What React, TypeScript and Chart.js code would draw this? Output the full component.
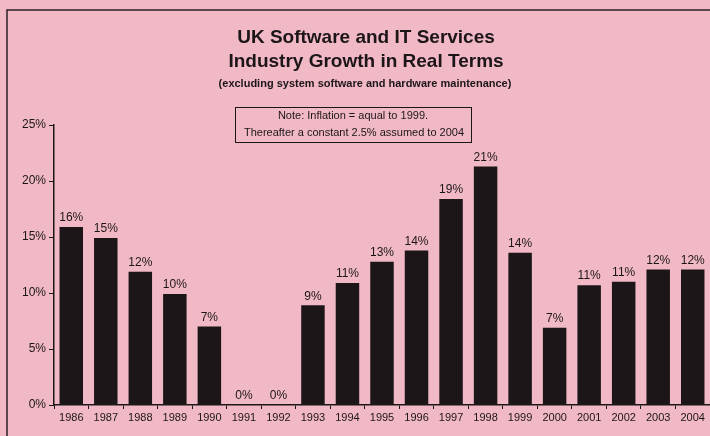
import React, { useEffect, useRef } from "react";
import { Chart, registerables } from "chart.js";

Chart.register(...registerables);

const years = ["1986","1987","1988","1989","1990","1991","1992","1993","1994","1995","1996","1997","1998","1999","2000","2001","2002","2003","2004"];
const growth = [15.9,14.9,11.9,9.9,7.0,0,0,8.9,10.9,12.8,13.8,18.4,21.3,13.6,6.9,10.7,11.0,12.1,12.1];
const valueLabels = ["16%","15%","12%","10%","7%","0%","0%","9%","11%","13%","14%","19%","21%","14%","7%","11%","11%","12%","12%"];
const yTicks = [0,5,10,15,20,25];
const titleLines = ["UK Software and IT Services", "Industry Growth in Real Terms"];
const subtitle = "(excluding system software and hardware maintenance)";
const noteLines = ["Note: Inflation = aqual to 1999.", "Thereafter a constant 2.5% assumed to 2004"];

const BG = "#f1b8c5";
const INK = "#1c1618";
const FONT = "'Liberation Sans', Arial, sans-serif";

const decor = {
  id: "decor",
  beforeDraw(chart: any) {
    const ctx = chart.ctx;
    ctx.save();
    ctx.fillStyle = BG;
    ctx.fillRect(0, 0, chart.width, chart.height);
    ctx.strokeStyle = "#2a2026";
    ctx.lineWidth = 1.5;
    ctx.beginPath();
    ctx.moveTo(7, chart.height);
    ctx.lineTo(7, 10);
    ctx.lineTo(chart.width, 10);
    ctx.stroke();
    ctx.restore();
  },
  afterDraw(chart: any) {
    const ctx = chart.ctx;
    ctx.save();
    ctx.fillStyle = INK;
    ctx.textAlign = "center";
    ctx.textBaseline = "middle";
    ctx.font = `bold 19px ${FONT}`;
    ctx.fillText(titleLines[0], 366, 38);
    ctx.fillText(titleLines[1], 366, 62);
    ctx.font = `bold 11px ${FONT}`;
    ctx.fillText(subtitle, 365, 84);
    // note box
    ctx.fillStyle = BG;
    ctx.fillRect(235, 107, 236, 36);
    ctx.strokeStyle = INK;
    ctx.lineWidth = 1;
    ctx.strokeRect(235.5, 107.5, 236, 35);
    ctx.fillStyle = INK;
    ctx.font = `11px ${FONT}`;
    ctx.fillText(noteLines[0], 353, 116);
    ctx.fillText(noteLines[1], 354, 133);
    // value labels
    const meta = chart.getDatasetMeta(0);
    ctx.font = `12px ${FONT}`;
    ctx.textBaseline = "bottom";
    meta.data.forEach((bar: any, i: number) => {
      ctx.fillText(valueLabels[i], bar.x, bar.y - 3);
    });
    ctx.restore();
  },
};

export default function App() {
  const ref = useRef<HTMLCanvasElement | null>(null);
  useEffect(() => {
    if (!ref.current) return;
    const chart = new Chart(ref.current, {
      type: "bar",
      data: {
        labels: years,
        datasets: [
          {
            data: growth,
            backgroundColor: INK,
            borderWidth: 0,
            barPercentage: 0.68,
            categoryPercentage: 1,
          },
        ],
      },
      options: {
        responsive: false,
        animation: false,
        layout: { padding: { top: 125, left: 0, right: 0, bottom: 0 } },
        plugins: { legend: { display: false }, tooltip: { enabled: false }, title: { display: false } },
        scales: {
          x: {
            grid: { offset: true, drawOnChartArea: false, drawTicks: true, tickLength: 4, color: INK },
            border: { display: true, color: INK, width: 1.5 },
            ticks: { color: INK, font: { family: FONT, size: 11 }, padding: 2, maxRotation: 0, autoSkip: false },
            afterFit(scale: any) { scale.height = 31; },
          },
          y: {
            min: 0,
            max: 25,
            afterBuildTicks(scale: any) { scale.ticks = yTicks.map((v) => ({ value: v })); },
            grid: { drawOnChartArea: false, drawTicks: true, tickLength: 5, color: INK },
            border: { display: true, color: INK, width: 1.5 },
            ticks: { color: INK, font: { family: FONT, size: 12 }, padding: 3, callback: (v: any) => v + "%" },
            afterFit(scale: any) { scale.width = 54; },
          },
        },
      },
      plugins: [decor],
    });
    return () => chart.destroy();
  }, []);
  return (
    <div style={{ position: "fixed", left: 0, top: 0, width: 710, height: 436, background: BG }}>
      <canvas ref={ref} width={710} height={436} style={{ display: "block", width: 710, height: 436 }} />
    </div>
  );
}
